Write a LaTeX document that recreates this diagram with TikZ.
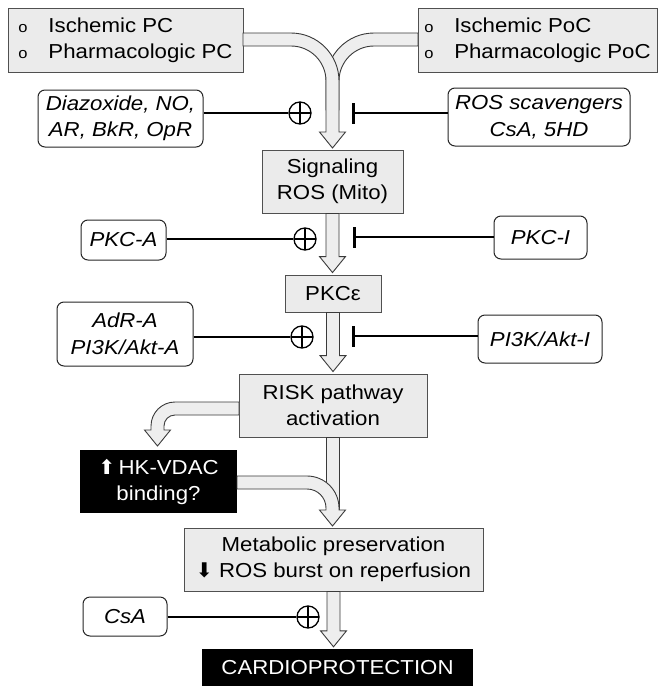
\documentclass[tikz,border=0pt]{standalone}
\usepackage{fontspec}
\setmainfont{Liberation Sans}[FakeStretch=1.1]
\newfontfamily\dejavu{DejaVu Sans}
\usetikzlibrary{arrows.meta,calc}
\definecolor{boxfill}{HTML}{EBEBEB}
\definecolor{boxline}{HTML}{505050}
\definecolor{arrfill}{HTML}{EEEEEE}
\definecolor{arrline}{HTML}{3A3A3A}
\newcommand\bul{\makebox[30pt][l]{\fontsize{15}{15}\selectfont o}}
\newcommand\harrow[2]{\path[harr] let \p1=(#1), \p2=(#2) in (\x1-6.5pt,\y1) -- (\x1-6.5pt,\y2+16pt) -- (\x1-13pt,\y2+16pt) -- (\x1,\y2) -- (\x1+13pt,\y2+16pt) -- (\x1+6.5pt,\y2+16pt) -- (\x1+6.5pt,\y1) -- cycle;}
\begin{document}
\begin{tikzpicture}[x=1pt,y=1pt, font=\fontsize{20.2}{26}\selectfont,
 gbox/.style={draw=boxline, fill=boxfill, line width=0.9pt, inner sep=0pt, align=center},
 rbox/.style={draw=black!85, fill=white, line width=1pt, rounded corners=7pt, inner sep=0pt, align=center, font=\fontsize{20.2}{26.5}\selectfont\itshape},
 kbox/.style={fill=black, text=white, inner sep=0pt, align=center},
 harr/.style={fill=arrfill, draw=arrline, line width=0.9pt, line join=miter},
 conn/.style={line width=2.6pt, black},
 plus/.style={circle, draw, line width=1.3pt, fill=white, minimum size=22pt, inner sep=0pt,
   path picture={\draw[line width=1.3pt] (path picture bounding box.north) -- (path picture bounding box.south) (path picture bounding box.west) -- (path picture bounding box.east);}},
 inh/.style={conn, -{Bar[width=21pt]}}
]
\fill[white] (0,0) rectangle (659,-686);
\useasboundingbox (0,0) rectangle (659,-686);

% boxes
\node[gbox, minimum width=235pt, minimum height=64pt, align=left] (pc) at (125.5,-40) {\bul Ischemic PC\\\bul Pharmacologic PC};
\node[gbox, minimum width=239pt, minimum height=64pt, align=left] (poc) at (537.5,-40) {\bul Ischemic PoC\\\bul Pharmacologic PoC};
\node[rbox, minimum width=165pt, minimum height=57pt] (dia) at (120.5,-118.5) {Diazoxide, NO,\\AR, BkR, OpR};
\node[rbox, minimum width=182pt, minimum height=58pt] (ros) at (539,-117) {ROS scavengers\\CsA, 5HD};
\node[gbox, minimum width=141pt, minimum height=63pt] (sig) at (332.5,-181.5) {Signaling\\ROS (Mito)};
\node[rbox, minimum width=85pt, minimum height=40pt] (pkca) at (123.5,-240) {PKC-A};
\node[rbox, minimum width=93pt, minimum height=43pt] (pkci) at (540.5,-237.5) {PKC-I};
\node[gbox, minimum width=96pt, minimum height=37pt] (pke) at (333,-293.5) {PKCε};
\node[rbox, minimum width=136pt, minimum height=64pt] (adr) at (125,-334) {AdR-A\\PI3K/Akt-A};
\node[rbox, minimum width=124pt, minimum height=48pt] (pi3ki) at (540,-339) {PI3K/Akt-I};
\node[gbox, minimum width=188pt, minimum height=63pt] (risk) at (333,-405.5) {RISK pathway\\activation};
\node[kbox, minimum width=157pt, minimum height=63pt] (hk) at (158.5,-481.5) {{\dejavu ⬆}\,HK-VDAC\\binding?};
\node[gbox, minimum width=299pt, minimum height=63pt] (met) at (333.5,-559.5) {Metabolic preservation\\{\dejavu ⬇} ROS burst on reperfusion};
\node[rbox, minimum width=84pt, minimum height=39pt] (csa) at (125,-616.5) {CsA};
\node[kbox, minimum width=271pt, minimum height=37pt] (card) at (337.5,-667.5) {CARDIOPROTECTION};

% hollow arrows
\path[harr] (418,-33) -- (374,-33) arc[start angle=90,end angle=180,radius=48] -- (326,-110) -- (339,-110) -- (339,-81) arc[start angle=180,end angle=90,radius=35] -- (418,-46) -- cycle;
\path[harr] (243,-33) -- (291,-33) arc[start angle=90,end angle=0,radius=48] -- (339,-132) -- (345.5,-132) -- (332.5,-148) -- (319.5,-132) -- (326,-132) -- (326,-81) arc[start angle=0,end angle=90,radius=35] -- (243,-46) -- cycle;
\harrow{sig.south}{$(pke.north)+(0,2)$}
\harrow{pke.south}{$(risk.north)+(0,2)$}
\path[harr] (326.5,-437) rectangle (339.5,-515);
\path[harr] (237,-476) -- (307,-476) arc[start angle=90,end angle=0,radius=32] -- (339,-510) -- (345.5,-510) -- (332.5,-526) -- (319.5,-510) -- (326,-510) -- (326,-508) arc[start angle=0,end angle=90,radius=19] -- (237,-489) -- cycle;
\path[harr] (239,-402) -- (175,-402) arc[start angle=90,end angle=180,radius=24] -- (151,-430) -- (144.5,-430) -- (157.5,-446) -- (170.5,-430) -- (164,-430) -- (164,-426) arc[start angle=180,end angle=90,radius=11] -- (239,-415) -- cycle;
\harrow{met.south}{$(card.north)+(0,2)$}

% modulators
\node[plus] (p1) at (300,-113) {};
\node[plus] (p2) at (305,-239) {};
\node[plus] (p3) at (302,-337) {};
\node[plus] (p4) at (308,-617) {};
\coordinate (b1) at (352,-113);
\coordinate (b2) at (353,-237);
\coordinate (b3) at (352,-336);
\draw[conn] (p1.west -| dia.east) -- (p1.west);
\draw[conn] (p2.west -| pkca.east) -- (p2.west);
\draw[conn] (p3.west -| adr.east) -- (p3.west);
\draw[conn] (p4.west -| csa.east) -- (p4.west);
\draw[inh] (b1 -| ros.west) -- (b1);
\draw[inh] (b2 -| pkci.west) -- (b2);
\draw[inh] (b3 -| pi3ki.west) -- (b3);
\end{tikzpicture}
\end{document}
